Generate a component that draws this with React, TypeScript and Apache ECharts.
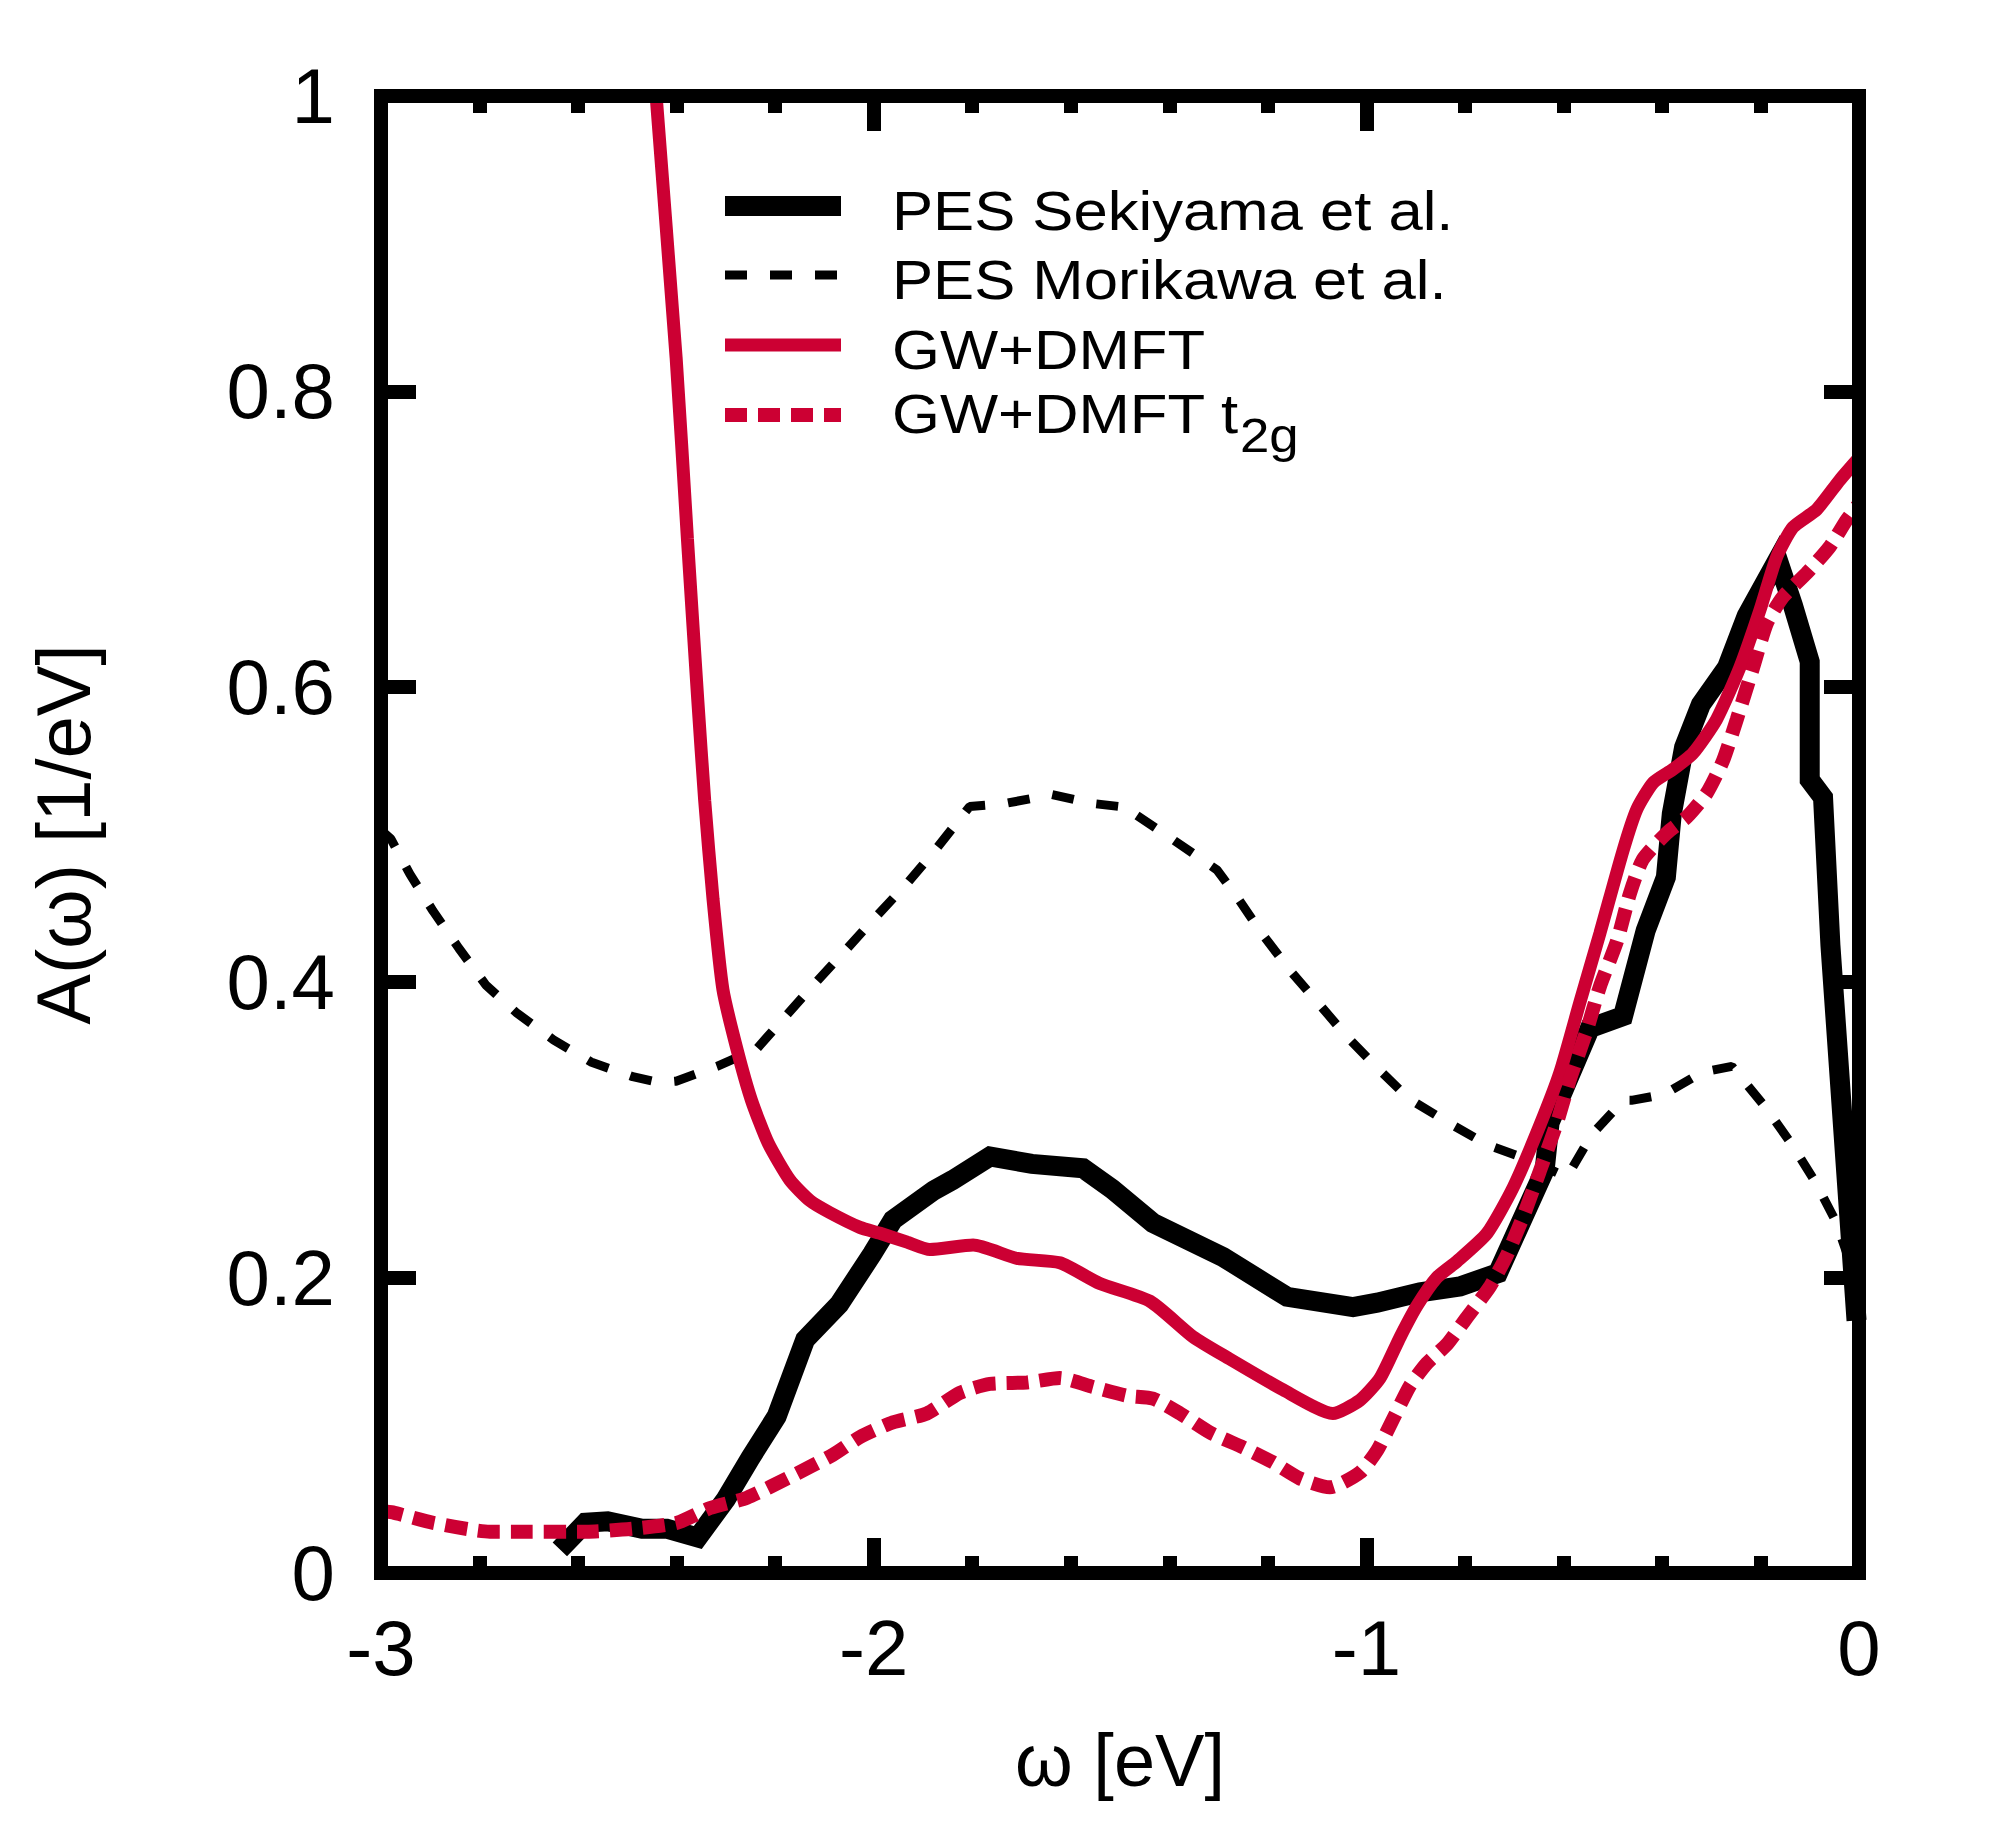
import React, { useEffect, useRef } from "react";
import * as echarts from "echarts";

// ---- data (x in eV, y in 1/eV) ----
const sekiyama: [number, number][] = [
  [-2.637, 0.016], [-2.585, 0.034], [-2.54, 0.035], [-2.47, 0.03], [-2.42, 0.03],
  [-2.357, 0.024], [-2.3, 0.05], [-2.25, 0.078], [-2.197, 0.106], [-2.139, 0.158],
  [-2.07, 0.182], [-2.003, 0.216], [-1.961, 0.239], [-1.878, 0.259], [-1.84, 0.266],
  [-1.764, 0.282], [-1.679, 0.277], [-1.575, 0.274], [-1.516, 0.26], [-1.433, 0.237],
  [-1.291, 0.214], [-1.161, 0.187], [-1.027, 0.18], [-0.978, 0.183], [-0.891, 0.19],
  [-0.81, 0.194], [-0.733, 0.203], [-0.638, 0.273], [-0.628, 0.305], [-0.546, 0.369],
  [-0.479, 0.377], [-0.433, 0.435], [-0.392, 0.471], [-0.38, 0.514], [-0.355, 0.559],
  [-0.321, 0.588], [-0.268, 0.613], [-0.228, 0.648], [-0.165, 0.686], [-0.134, 0.655],
  [-0.1, 0.617], [-0.1, 0.537], [-0.073, 0.525], [-0.058, 0.425], [-0.005, 0.171],
];

const morikawa: [number, number][] = [
  [-3.0, 0.503], [-2.98, 0.497], [-2.941, 0.473], [-2.894, 0.448], [-2.842, 0.423],
  [-2.787, 0.398], [-2.724, 0.379], [-2.65, 0.361], [-2.574, 0.346], [-2.489, 0.336],
  [-2.435, 0.332], [-2.401, 0.333], [-2.318, 0.343], [-2.257, 0.352], [-2.237, 0.355],
  [-2.176, 0.378], [-2.117, 0.4], [-2.056, 0.422], [-1.999, 0.443], [-1.932, 0.467],
  [-1.876, 0.489], [-1.805, 0.519], [-1.733, 0.521], [-1.638, 0.527], [-1.555, 0.521],
  [-1.476, 0.518], [-1.466, 0.513], [-1.399, 0.498], [-1.303, 0.476], [-1.263, 0.458],
  [-1.21, 0.432], [-1.155, 0.408], [-1.098, 0.386], [-1.039, 0.363], [-0.978, 0.342],
  [-0.913, 0.321], [-0.834, 0.305], [-0.755, 0.29], [-0.664, 0.279], [-0.593, 0.268],
  [-0.542, 0.297], [-0.478, 0.32], [-0.462, 0.32], [-0.396, 0.324], [-0.319, 0.339],
  [-0.258, 0.343], [-0.189, 0.315], [-0.136, 0.29], [-0.089, 0.265], [-0.047, 0.238],
  [-0.022, 0.214], [0.0, 0.2],
];

const gwdmft: [number, number][] = [
  [-2.4505, 1.05], [-2.4415, 1.0], [-2.401, 0.823], [-2.378, 0.7], [-2.357, 0.591],
  [-2.343, 0.523], [-2.326, 0.456], [-2.306, 0.395], [-2.277, 0.354], [-2.248, 0.32],
  [-2.214, 0.291], [-2.17, 0.266], [-2.129, 0.252], [-2.089, 0.244], [-2.028, 0.234],
  [-1.987, 0.23], [-1.932, 0.224], [-1.886, 0.219], [-1.798, 0.222], [-1.709, 0.213],
  [-1.622, 0.21], [-1.541, 0.196], [-1.439, 0.184], [-1.352, 0.16], [-1.283, 0.146],
  [-1.169, 0.124], [-1.068, 0.108], [-1.013, 0.117], [-0.972, 0.132], [-0.931, 0.16],
  [-0.897, 0.181], [-0.857, 0.2], [-0.816, 0.211], [-0.755, 0.23], [-0.702, 0.261],
  [-0.648, 0.303], [-0.607, 0.339], [-0.566, 0.387], [-0.526, 0.433], [-0.479, 0.489],
  [-0.451, 0.517], [-0.418, 0.535], [-0.378, 0.544], [-0.337, 0.555], [-0.289, 0.578],
  [-0.242, 0.613], [-0.201, 0.652], [-0.167, 0.688], [-0.134, 0.708], [-0.086, 0.72],
  [-0.039, 0.74], [0.0, 0.755],
];

const gwdmftT2g: [number, number][] = [
  [-3.0, 0.042], [-2.976, 0.041], [-2.894, 0.034], [-2.779, 0.028], [-2.698, 0.028],
  [-2.582, 0.028], [-2.489, 0.03], [-2.399, 0.034], [-2.332, 0.044], [-2.257, 0.051],
  [-2.164, 0.066], [-2.083, 0.08], [-2.028, 0.092], [-1.961, 0.102], [-1.892, 0.108],
  [-1.825, 0.122], [-1.764, 0.128], [-1.689, 0.129], [-1.622, 0.132], [-1.555, 0.126],
  [-1.486, 0.12], [-1.433, 0.118], [-1.378, 0.108], [-1.317, 0.095], [-1.25, 0.085],
  [-1.19, 0.075], [-1.135, 0.064], [-1.074, 0.058], [-1.013, 0.068], [-0.978, 0.083],
  [-0.946, 0.104], [-0.911, 0.127], [-0.877, 0.142], [-0.836, 0.155], [-0.796, 0.173],
  [-0.749, 0.194], [-0.715, 0.215], [-0.682, 0.241], [-0.648, 0.272], [-0.613, 0.305],
  [-0.587, 0.334], [-0.552, 0.368], [-0.526, 0.397], [-0.491, 0.428], [-0.465, 0.46],
  [-0.439, 0.483], [-0.39, 0.501], [-0.349, 0.512], [-0.309, 0.528], [-0.276, 0.55],
  [-0.248, 0.578], [-0.215, 0.613], [-0.187, 0.643], [-0.154, 0.661], [-0.106, 0.677],
  [-0.059, 0.695], [-0.025, 0.713], [0.0, 0.724],
];

const seriesNames = ["PES Sekiyama et al.", "PES Morikawa et al.", "GW+DMFT", "GW+DMFT t"];
const subscript = "2g";
const xRange = [-3, 0];
const yRange = [0, 1];
const xTitle = "ω [eV]";
const yTitle = "A(ω) [1/eV]";

const FONT = '"Liberation Sans", Arial, Helvetica, sans-serif';
const RED = "#cc0033";

export default function App() {
  const ref = useRef<HTMLDivElement>(null);
  useEffect(() => {
    document.body.style.margin = "0";
    const chart = echarts.init(ref.current!, null, { renderer: "svg" });

    const tickStyle = { color: "#000", width: 14 };
    const axisLine = { show: true, onZero: false, lineStyle: { color: "#000", width: 14 } };
    const baseX = {
      type: "value",
      min: xRange[0],
      max: xRange[1],
      interval: 1,
      splitLine: { show: false },
      axisLine,
      axisTick: { show: true, inside: true, length: 35, lineStyle: tickStyle },
      minorTick: { show: true, splitNumber: 5, length: 17, lineStyle: tickStyle },
      z: 10,
    };
    const baseY = {
      type: "value",
      min: yRange[0],
      max: yRange[1],
      interval: 0.2,
      splitLine: { show: false },
      axisLine,
      axisTick: { show: true, inside: true, length: 35, lineStyle: tickStyle },
      z: 10,
    };

    const lx1 = 725, lx2 = 841, tx = 892;
    const rowY = [206, 275, 345, 415];
    const textY = [210, 279, 349, 413];
    const lineStyles = [
      { stroke: "#000", lineWidth: 20 },
      { stroke: "#000", lineWidth: 9, lineDash: [22, 23] },
      { stroke: RED, lineWidth: 13 },
      { stroke: RED, lineWidth: 14, lineDash: [22, 11] },
    ];
    const legendEls: any[] = [];
    seriesNames.forEach((name, i) => {
      legendEls.push({
        type: "line",
        shape: { x1: lx1, y1: rowY[i], x2: lx2, y2: rowY[i] },
        style: { ...lineStyles[i], lineCap: "butt" },
        z: 20,
      });
      legendEls.push({
        type: "text",
        x: tx,
        y: textY[i],
        scaleX: 1.1,
        style: {
          text: name,
          fontSize: 56,
          fontFamily: FONT,
          fill: "#000",
          align: "left",
          verticalAlign: "middle",
        },
        z: 20,
      });
    });
    legendEls.push({
      type: "text",
      x: 1240,
      y: 435,
      scaleX: 1.1,
      style: {
        text: subscript,
        fontSize: 48,
        fontFamily: FONT,
        fill: "#000",
        align: "left",
        verticalAlign: "middle",
      },
      z: 20,
    });

    const option: any = {
      animation: false,
      backgroundColor: "#fff",
      grid: {
        left: 381,
        right: 141,
        top: 96,
        bottom: 249,
        show: true,
        borderColor: "#000",
        borderWidth: 14,
        backgroundColor: "transparent",
        z: 10,
      },
      xAxis: [
        {
          ...baseX,
          position: "bottom",
          name: xTitle,
          nameLocation: "middle",
          nameGap: 150,
          nameTextStyle: { fontSize: 74, fontFamily: FONT, color: "#000" },
          axisLabel: { show: true, fontSize: 78, fontFamily: FONT, color: "#000", margin: 36 },
        },
        {
          ...baseX,
          position: "top",
          axisLabel: { show: false },
        },
      ],
      yAxis: [
        {
          ...baseY,
          position: "left",
          name: yTitle,
          nameLocation: "middle",
          nameGap: 280,
          nameTextStyle: { fontSize: 76, fontFamily: FONT, color: "#000" },
          axisLabel: { show: true, fontSize: 78, fontFamily: FONT, color: "#000", margin: 46 },
        },
        {
          ...baseY,
          position: "right",
          axisLabel: { show: false },
        },
      ],
      graphic: { elements: legendEls },
      series: [
        {
          type: "line",
          name: seriesNames[0],
          data: sekiyama,
          showSymbol: false,
          symbol: "none",
          lineStyle: { color: "#000", width: 20, join: "miter", cap: "butt" },
          clip: true,
        },
        {
          type: "line",
          name: seriesNames[1],
          data: morikawa,
          showSymbol: false,
          symbol: "none",
          lineStyle: { color: "#000", width: 9, type: [22, 23], cap: "butt" },
          clip: true,
        },
        {
          type: "line",
          name: seriesNames[2],
          data: gwdmft,
          showSymbol: false,
          symbol: "none",
          smooth: 0.2,
          lineStyle: { color: RED, width: 13 },
          clip: true,
        },
        {
          type: "line",
          name: seriesNames[3] + subscript,
          data: gwdmftT2g,
          showSymbol: false,
          symbol: "none",
          smooth: 0.2,
          lineStyle: { color: RED, width: 14, type: [22, 11], cap: "butt" },
          clip: true,
        },
      ],
    };
    chart.setOption(option);
    return () => chart.dispose();
  }, []);
  return <div ref={ref} style={{ width: 2000, height: 1822 }} />;
}
